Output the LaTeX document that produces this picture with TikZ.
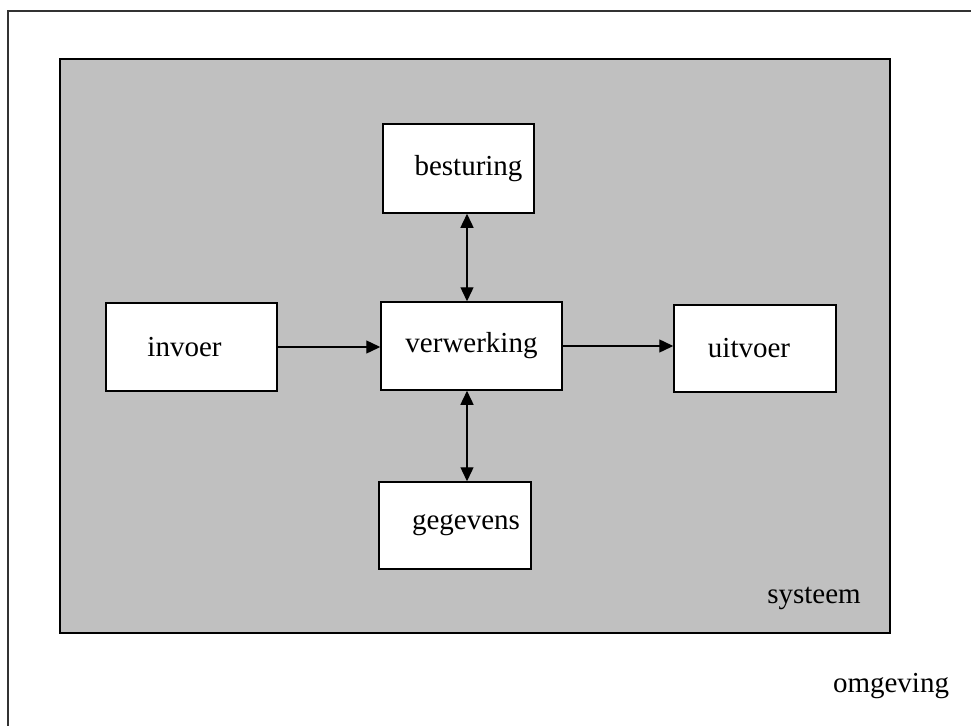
\documentclass[tikz,border=0pt]{standalone}
\usepackage{fontspec}
\setmainfont{Liberation Serif}
\usetikzlibrary{arrows.meta}

\definecolor{systeemgrijs}{RGB}{192,192,192}

\tikzset{
  blok/.style={draw=black, line width=1.5pt, fill=white, inner sep=0pt},
  pijl/.style={line width=1.4pt, -{Triangle[length=14pt,width=13pt]}},
  tweepijl/.style={line width=1.4pt, {Triangle[length=14pt,width=13pt]}-{Triangle[length=14pt,width=13pt]}}
}

\begin{document}
\begin{tikzpicture}[x=1pt, y=-1pt, font=\fontsize{29}{33}\selectfont]
            \useasboundingbox (0,0) rectangle (971,725);

            % Omgeving
            \draw[line width=1.8pt, draw=black!80] (8,11) rectangle (990,745);
            \node (omgeving) at (891,686) {omgeving};

            % Systeem
            \draw[line width=1.8pt, fill=systeemgrijs] (60,59) rectangle (890,633);
            \node (systeem) at (814,598) {systeem};

            % Blokken
            \node[blok, minimum width=151pt, minimum height=89pt] (besturing) at (458.5,168.5) {\hspace*{20pt}besturing};
            \node[blok, minimum width=171pt, minimum height=88pt] (invoer) at (191.5,347) {invoer\hspace*{14pt}};
            \node[blok, minimum width=181pt, minimum height=88pt] (verwerking) at (471.5,346) {verwerking};
            \node[blok, minimum width=162pt, minimum height=87pt] (uitvoer) at (755,348.5) {uitvoer\hspace*{12pt}};
            \node[blok, minimum width=152pt, minimum height=87pt] (gegevens) at (455,525.5) {\hspace*{22pt}gegevens};

            % Pijlen
            \draw[pijl] (invoer.east) -- (invoer.east -| verwerking.west);
            \draw[pijl] (verwerking.east) -- (verwerking.east -| uitvoer.west);
            \draw[tweepijl] ([xshift=-4.5pt]verwerking.north) -- ([xshift=-4.5pt]verwerking.north |- besturing.south);
            \draw[tweepijl] ([xshift=-4.5pt]verwerking.south) -- ([xshift=-4.5pt]verwerking.south |- gegevens.north);

\end{tikzpicture}
\end{document}
